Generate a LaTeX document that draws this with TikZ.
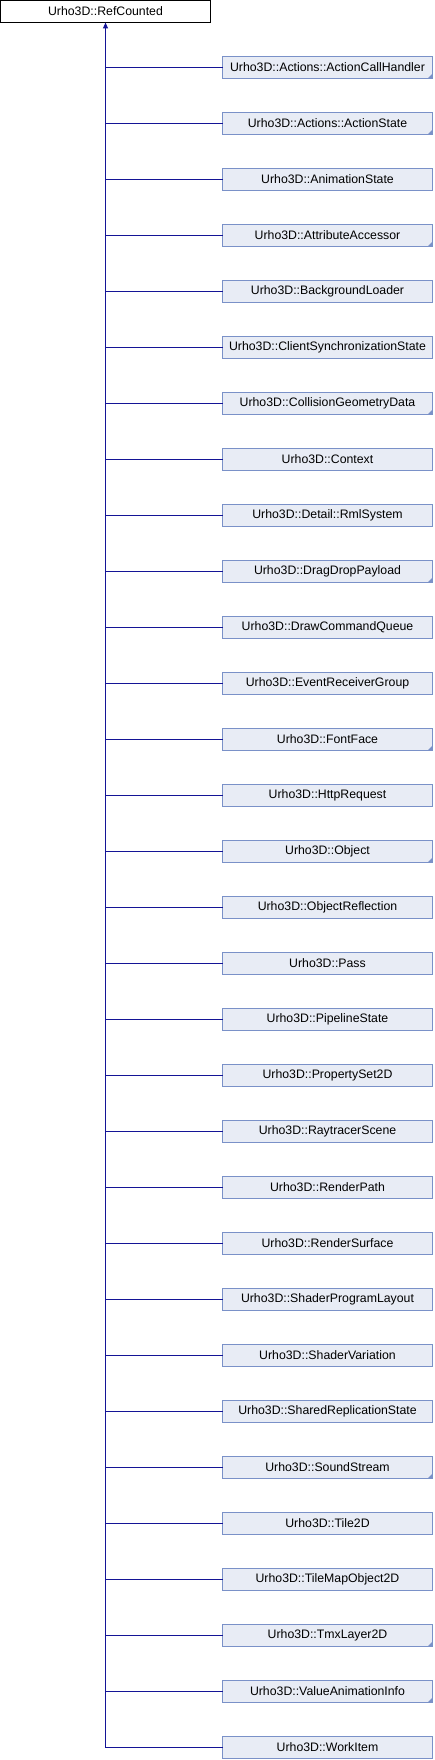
\documentclass[tikz,border=0pt]{standalone}
\usepackage{fontspec}
\setmainfont{Liberation Sans}
\usetikzlibrary{arrows.meta}
\definecolor{boxfill}{RGB}{232,236,245}
\definecolor{boxline}{RGB}{122,145,200}
\definecolor{edgeblue}{RGB}{20,20,150}
\tikzset{
  rootbox/.style={draw=black, fill=white, line width=1pt, minimum width=210pt, minimum height=22pt, inner sep=0pt, outer sep=0pt, font=\fontsize{12.3}{14}\selectfont},
  childbox/.style={draw=boxline, fill=boxfill, line width=1pt, minimum width=210pt, minimum height=22pt, inner sep=0pt, outer sep=0pt, font=\fontsize{12.3}{14}\selectfont},
  edge/.style={draw=edgeblue, line width=1pt},
  fold/.style={fill=boxline}
}
\begin{document}
\begin{tikzpicture}[x=1pt,y=-1pt]
\useasboundingbox (0,0) rectangle (434,1760);
\node[rootbox] (root) at (105.5,11.5) {Urho3D::RefCounted};
\foreach \nm [count=\i from 0] in {Actions::ActionCallHandler,Actions::ActionState,AnimationState,AttributeAccessor,BackgroundLoader,ClientSynchronizationState,CollisionGeometryData,Context,Detail::RmlSystem,DragDropPayload,DrawCommandQueue,EventReceiverGroup,FontFace,HttpRequest,Object,ObjectReflection,Pass,PipelineState,PropertySet2D,RaytracerScene,RenderPath,RenderSurface,ShaderProgramLayout,ShaderVariation,SharedReplicationState,SoundStream,Tile2D,TileMapObject2D,TmxLayer2D,ValueAnimationInfo,WorkItem}{
  \node[childbox] (c\i) at (327.5,67.5+56*\i) {Urho3D::\nm};
}
\foreach \i in {0,...,29} \draw[edge] (c\i.west) -- (c\i.west -| root.south);
\draw[edge,-{Triangle[length=6pt,width=5pt]}] (c30.west) -| (root.south);
\foreach \i in {0,1,3,6,9,12,14,25,28,29} \fill[fold] (c\i.south east) -- ++(-5pt,0pt) -- ++(5pt,5pt) -- cycle;
\end{tikzpicture}
\end{document}
